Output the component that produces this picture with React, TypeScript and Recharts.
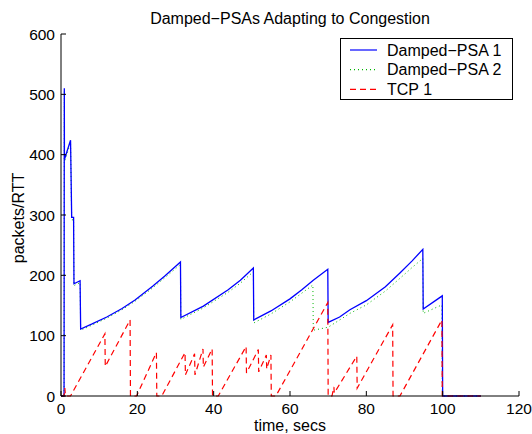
import React from 'react';
import { LineChart, Line, XAxis, YAxis } from 'recharts';

// [time (s), packets/RTT]
const psa1Points: number[][] = [
  [0, 0], [0.8, 0], [0.87, 510], [0.9, 392], [2.5, 424], [2.8, 296], [3.3, 296], [3.4, 186],
  [5.0, 191], [5.15, 111], [8, 119], [12, 131], [16, 145], [19.4, 159], [24, 182], [27.2, 199],
  [31.3, 222], [31.4, 130], [37.3, 149], [43.8, 176], [47, 192], [50.4, 212], [50.5, 126],
  [55, 141], [60, 161], [63.1, 176], [66.1, 192], [69.9, 210], [70.0, 122], [73, 131],
  [75.7, 143], [80, 158], [85, 181], [88.8, 204], [92, 224], [94.8, 243], [94.9, 144],
  [99.9, 166], [100, 0], [110, 0],
];

const psa2Points: number[][] = [
  [0, 0], [0.8, 0], [0.87, 505], [0.9, 388], [2.5, 420], [2.8, 292], [3.3, 292], [3.4, 183],
  [5.0, 188], [5.15, 109], [8, 117], [12, 129], [16, 143], [19.4, 157], [24, 179], [27.2, 196],
  [31.3, 218], [31.4, 127], [37.3, 146], [43.8, 172], [47, 187], [50.4, 206], [50.5, 121],
  [55, 136], [60, 156], [63, 170], [66, 184], [66.1, 109], [70, 114], [73, 126], [75.7, 137],
  [80, 151], [85, 174], [88.8, 195], [92, 213], [94.8, 228], [94.9, 137], [99.8, 151],
  [99.9, 0], [110, 0],
];

const tcpPoints: number[][] = [
  [0, 0], [0.8, 0], [1.0, 13], [1.2, 0], [2.5, 0], [11.5, 103], [11.6, 49], [18.1, 126],
  [18.2, 0], [19.8, 0], [25.0, 72], [25.1, 0], [26.4, 0], [32.5, 72], [32.6, 35], [35.0, 70],
  [35.1, 35], [37.2, 78], [37.3, 48], [39.6, 78], [39.7, 0], [41.2, 0], [48.5, 82], [48.6, 38],
  [51.7, 77], [51.8, 40], [53.8, 68], [53.9, 45], [55.0, 68], [55.1, 0], [56.3, 0], [69.9, 155],
  [70.0, 0], [71.0, 0], [71.5, 15], [71.6, 5], [77.5, 66], [77.6, 13], [86.9, 118], [87.0, 0],
  [88.8, 0], [99.8, 126], [99.9, 0], [110, 0],
];

const xTicks = [0, 20, 40, 60, 80, 100, 120];
const yTicks = [0, 100, 200, 300, 400, 500, 600];

const seriesNames = ['Damped\u2212PSA 1', 'Damped\u2212PSA 2', 'TCP 1'];

const toRows = (pts: number[][]) => pts.map(([t, v]) => ({ t, v }));

const FONT = '"Liberation Sans", Arial, Helvetica, sans-serif';

const BLUE = '#0000ff';
const GREEN = '#00b400';
const RED = '#ff0000';

const XTick = (props: any) => {
  const { x, y, payload } = props;
  return (
    <g>
      <line x1={x} x2={x} y1={y} y2={y - 5} stroke="#000" />
      <text x={x} y={y + 18} textAnchor="middle" fontSize={15.5} fontFamily={FONT} fill="#000">
        {payload.value}
      </text>
    </g>
  );
};

const YTick = (props: any) => {
  const { x, y, payload } = props;
  return (
    <g>
      <line x1={x} x2={x + 5} y1={y} y2={y} stroke="#000" />
      <text x={x - 6} y={y + 5.5} textAnchor="end" fontSize={15.5} fontFamily={FONT} fill="#000">
        {payload.value}
      </text>
    </g>
  );
};

const App: React.FC = () => {
  const legendItems = [
    { name: seriesNames[0], color: BLUE, dash: undefined },
    { name: seriesNames[1], color: GREEN, dash: '1 3' },
    { name: seriesNames[2], color: RED, dash: '6 4' },
  ];

  return (
    <div style={{ position: 'absolute', left: 0, top: 0, width: 532, height: 434, background: '#fff' }}>
      <LineChart width={532} height={434} margin={{ top: 34, right: 13, left: 0, bottom: 0 }}>
        <XAxis
          type="number"
          dataKey="t"
          domain={[0, 120]}
          ticks={xTicks}
          height={38}
          tickSize={0}
          tickMargin={0}
          tickLine={false}
          tick={<XTick />}
          axisLine={{ stroke: '#000' }}
          allowDuplicatedCategory={false}
        />
        <YAxis
          type="number"
          domain={[0, 600]}
          ticks={yTicks}
          width={61}
          tickSize={0}
          tickMargin={0}
          tickLine={false}
          tick={<YTick />}
          axisLine={{ stroke: '#000' }}
        />
        {/* green under blue, red on top */}
        <Line data={toRows(psa2Points)} dataKey="v" type="linear" stroke={GREEN} strokeWidth={1}
          strokeDasharray="1 3" dot={false} isAnimationActive={false} name={seriesNames[1]} />
        <Line data={toRows(psa1Points)} dataKey="v" type="linear" stroke={BLUE} strokeWidth={1.3}
          dot={false} isAnimationActive={false} name={seriesNames[0]} />
        <Line data={toRows(tcpPoints)} dataKey="v" type="linear" stroke={RED} strokeWidth={1.2}
          strokeDasharray="6 4" dot={false} isAnimationActive={false} name={seriesNames[2]} />
      </LineChart>

      {/* title, axis labels and legend box */}
      <svg width={532} height={434} style={{ position: 'absolute', left: 0, top: 0, pointerEvents: 'none' }}>
        <text x={290} y={24} textAnchor="middle" fontSize={16} fontFamily={FONT} fill="#000">
          Damped{'\u2212'}PSAs Adapting to Congestion
        </text>
        <text x={290} y={431} textAnchor="middle" fontSize={16} fontFamily={FONT} fill="#000">
          time, secs
        </text>
        <text x={24} y={218} textAnchor="middle" fontSize={16} fontFamily={FONT} fill="#000"
          transform="rotate(-90 24 218)">
          packets/RTT
        </text>
        <rect x={340.5} y={38.5} width={172} height={61} fill="#fff" stroke="#000" />
        {legendItems.map((item, i) => {
          const ly = 50 + i * 19.7;
          return (
            <g key={item.name}>
              <line x1={350} x2={377} y1={ly} y2={ly} stroke={item.color} strokeWidth={1.2}
                strokeDasharray={item.dash} />
              <text x={387} y={ly + 5.5} fontSize={16} fontFamily={FONT} fill="#000">{item.name}</text>
            </g>
          );
        })}
      </svg>
    </div>
  );
};

export default App;
